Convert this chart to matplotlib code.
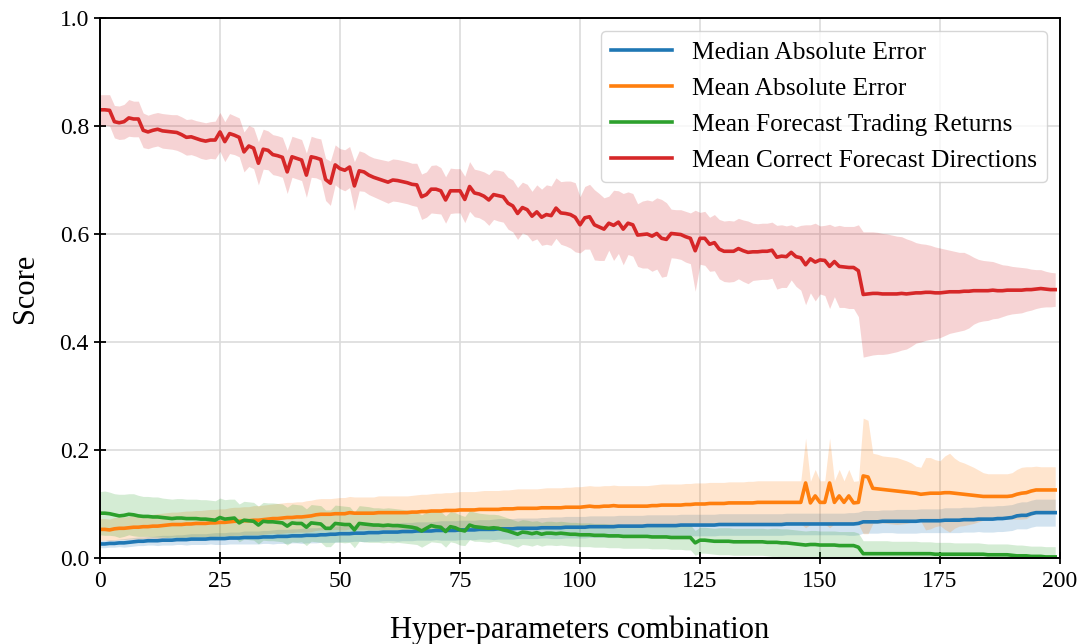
import matplotlib
matplotlib.use("Agg")
import matplotlib.pyplot as plt
import numpy as np

# one value per hyper-parameter combination (index 0..199), mean and std of each score

median_ae_mean = [
    0.026, 0.026, 0.027, 0.027, 0.028, 0.028, 0.029, 0.030, 0.031, 0.031,
    0.032, 0.032, 0.032, 0.033, 0.033, 0.033, 0.034, 0.034, 0.034, 0.035,
    0.035, 0.035, 0.035, 0.036, 0.036, 0.036, 0.036, 0.037, 0.037, 0.037,
    0.038, 0.038, 0.038, 0.038, 0.039, 0.039, 0.039, 0.040, 0.040, 0.040,
    0.041, 0.041, 0.041, 0.042, 0.042, 0.042, 0.043, 0.043, 0.044, 0.044,
    0.045, 0.045, 0.045, 0.046, 0.046, 0.046, 0.047, 0.047, 0.047, 0.048,
    0.048, 0.048, 0.048, 0.049, 0.049, 0.049, 0.050, 0.050, 0.050, 0.050,
    0.051, 0.051, 0.051, 0.051, 0.051, 0.052, 0.052, 0.052, 0.052, 0.053,
    0.053, 0.053, 0.053, 0.054, 0.054, 0.054, 0.054, 0.055, 0.055, 0.055,
    0.055, 0.055, 0.056, 0.056, 0.056, 0.056, 0.056, 0.057, 0.057, 0.057,
    0.057, 0.057, 0.058, 0.058, 0.058, 0.058, 0.058, 0.058, 0.059, 0.059,
    0.059, 0.059, 0.059, 0.059, 0.060, 0.060, 0.060, 0.060, 0.060, 0.060,
    0.060, 0.061, 0.061, 0.061, 0.061, 0.061, 0.061, 0.061, 0.061, 0.062,
    0.062, 0.062, 0.062, 0.062, 0.062, 0.062, 0.062, 0.062, 0.062, 0.062,
    0.062, 0.062, 0.062, 0.063, 0.063, 0.063, 0.063, 0.063, 0.063, 0.063,
    0.063, 0.063, 0.063, 0.063, 0.063, 0.063, 0.063, 0.063, 0.064, 0.067,
    0.067, 0.067, 0.067, 0.068, 0.068, 0.068, 0.068, 0.068, 0.068, 0.068,
    0.068, 0.069, 0.069, 0.069, 0.069, 0.069, 0.070, 0.070, 0.070, 0.070,
    0.071, 0.071, 0.071, 0.072, 0.072, 0.072, 0.072, 0.073, 0.073, 0.074,
    0.075, 0.078, 0.079, 0.079, 0.082, 0.084, 0.084, 0.084, 0.084, 0.084,
]
median_ae_std = [
    0.007, 0.007, 0.007, 0.007, 0.007, 0.008, 0.008, 0.008, 0.008, 0.008,
    0.008, 0.008, 0.009, 0.009, 0.009, 0.009, 0.009, 0.009, 0.010, 0.010,
    0.010, 0.010, 0.010, 0.010, 0.011, 0.011, 0.011, 0.011, 0.011, 0.011,
    0.012, 0.012, 0.012, 0.012, 0.012, 0.012, 0.013, 0.013, 0.013, 0.013,
    0.013, 0.013, 0.014, 0.014, 0.014, 0.014, 0.014, 0.014, 0.015, 0.015,
    0.015, 0.015, 0.015, 0.015, 0.015, 0.016, 0.016, 0.016, 0.016, 0.016,
    0.016, 0.016, 0.017, 0.017, 0.017, 0.017, 0.017, 0.017, 0.017, 0.017,
    0.017, 0.018, 0.018, 0.018, 0.018, 0.018, 0.018, 0.018, 0.018, 0.018,
    0.018, 0.018, 0.019, 0.019, 0.019, 0.019, 0.019, 0.019, 0.019, 0.019,
    0.019, 0.019, 0.019, 0.019, 0.020, 0.020, 0.020, 0.020, 0.020, 0.020,
    0.020, 0.020, 0.020, 0.020, 0.020, 0.020, 0.020, 0.020, 0.020, 0.020,
    0.020, 0.020, 0.020, 0.020, 0.020, 0.020, 0.020, 0.020, 0.020, 0.020,
    0.020, 0.020, 0.020, 0.020, 0.020, 0.020, 0.020, 0.020, 0.020, 0.020,
    0.020, 0.020, 0.020, 0.020, 0.020, 0.020, 0.020, 0.020, 0.020, 0.020,
    0.020, 0.020, 0.020, 0.020, 0.020, 0.020, 0.020, 0.020, 0.020, 0.020,
    0.020, 0.020, 0.020, 0.020, 0.020, 0.020, 0.021, 0.021, 0.021, 0.021,
    0.021, 0.021, 0.021, 0.021, 0.021, 0.021, 0.022, 0.022, 0.022, 0.022,
    0.022, 0.022, 0.022, 0.022, 0.022, 0.022, 0.023, 0.023, 0.023, 0.023,
    0.023, 0.023, 0.023, 0.023, 0.024, 0.024, 0.024, 0.024, 0.024, 0.024,
    0.024, 0.024, 0.025, 0.025, 0.025, 0.025, 0.025, 0.025, 0.025, 0.025,
]

mean_ae_mean = [
    0.053, 0.053, 0.052, 0.054, 0.055, 0.055, 0.056, 0.057, 0.057, 0.058,
    0.058, 0.059, 0.059, 0.060, 0.061, 0.062, 0.062, 0.062, 0.063, 0.063,
    0.064, 0.064, 0.064, 0.065, 0.065, 0.066, 0.066, 0.067, 0.068, 0.068,
    0.069, 0.069, 0.070, 0.070, 0.071, 0.072, 0.073, 0.073, 0.074, 0.075,
    0.075, 0.076, 0.076, 0.077, 0.078, 0.080, 0.081, 0.081, 0.081, 0.082,
    0.082, 0.082, 0.084, 0.083, 0.083, 0.083, 0.083, 0.083, 0.084, 0.084,
    0.084, 0.084, 0.084, 0.084, 0.084, 0.085, 0.085, 0.086, 0.086, 0.087,
    0.087, 0.087, 0.088, 0.088, 0.088, 0.089, 0.089, 0.089, 0.089, 0.090,
    0.090, 0.090, 0.090, 0.090, 0.091, 0.091, 0.091, 0.092, 0.092, 0.092,
    0.092, 0.092, 0.093, 0.093, 0.093, 0.093, 0.093, 0.094, 0.094, 0.094,
    0.094, 0.095, 0.096, 0.095, 0.095, 0.096, 0.096, 0.097, 0.096, 0.096,
    0.096, 0.096, 0.096, 0.096, 0.096, 0.097, 0.097, 0.098, 0.098, 0.098,
    0.098, 0.098, 0.099, 0.099, 0.100, 0.100, 0.100, 0.101, 0.101, 0.101,
    0.101, 0.102, 0.102, 0.102, 0.102, 0.102, 0.102, 0.103, 0.103, 0.103,
    0.103, 0.103, 0.103, 0.103, 0.103, 0.103, 0.103, 0.139, 0.102, 0.115,
    0.103, 0.103, 0.139, 0.103, 0.115, 0.103, 0.115, 0.102, 0.103, 0.152,
    0.150, 0.129, 0.128, 0.127, 0.126, 0.125, 0.124, 0.123, 0.122, 0.121,
    0.120, 0.118, 0.119, 0.120, 0.120, 0.120, 0.121, 0.121, 0.120, 0.119,
    0.118, 0.117, 0.116, 0.115, 0.114, 0.114, 0.114, 0.114, 0.114, 0.114,
    0.115, 0.118, 0.120, 0.121, 0.124, 0.126, 0.126, 0.126, 0.126, 0.126,
]
mean_ae_std = [
    0.020, 0.020, 0.020, 0.021, 0.021, 0.021, 0.021, 0.022, 0.022, 0.022,
    0.022, 0.022, 0.023, 0.023, 0.023, 0.023, 0.023, 0.024, 0.024, 0.024,
    0.024, 0.024, 0.025, 0.025, 0.025, 0.025, 0.025, 0.026, 0.026, 0.026,
    0.026, 0.026, 0.027, 0.027, 0.027, 0.027, 0.027, 0.028, 0.028, 0.028,
    0.028, 0.028, 0.028, 0.029, 0.029, 0.029, 0.029, 0.029, 0.029, 0.029,
    0.030, 0.030, 0.030, 0.030, 0.030, 0.030, 0.030, 0.030, 0.031, 0.031,
    0.031, 0.031, 0.031, 0.031, 0.031, 0.031, 0.032, 0.032, 0.032, 0.032,
    0.033, 0.033, 0.033, 0.033, 0.034, 0.034, 0.034, 0.034, 0.034, 0.034,
    0.035, 0.035, 0.035, 0.035, 0.035, 0.035, 0.036, 0.036, 0.036, 0.036,
    0.036, 0.036, 0.036, 0.037, 0.037, 0.037, 0.037, 0.037, 0.037, 0.038,
    0.038, 0.038, 0.038, 0.038, 0.038, 0.038, 0.038, 0.038, 0.038, 0.038,
    0.038, 0.038, 0.038, 0.038, 0.038, 0.038, 0.039, 0.039, 0.039, 0.039,
    0.039, 0.039, 0.039, 0.039, 0.039, 0.039, 0.039, 0.039, 0.039, 0.039,
    0.039, 0.039, 0.039, 0.039, 0.039, 0.040, 0.040, 0.040, 0.040, 0.040,
    0.040, 0.040, 0.040, 0.040, 0.040, 0.040, 0.040, 0.083, 0.040, 0.049,
    0.040, 0.040, 0.083, 0.040, 0.049, 0.040, 0.049, 0.040, 0.040, 0.107,
    0.105, 0.065, 0.064, 0.062, 0.062, 0.062, 0.062, 0.060, 0.058, 0.055,
    0.050, 0.050, 0.067, 0.066, 0.062, 0.060, 0.068, 0.073, 0.065, 0.060,
    0.058, 0.055, 0.052, 0.048, 0.044, 0.042, 0.042, 0.042, 0.042, 0.042,
    0.043, 0.046, 0.048, 0.048, 0.045, 0.044, 0.043, 0.043, 0.043, 0.043,
]

returns_mean = [
    0.083, 0.083, 0.082, 0.080, 0.078, 0.079, 0.081, 0.080, 0.078, 0.077,
    0.077, 0.076, 0.076, 0.075, 0.074, 0.073, 0.074, 0.074, 0.073, 0.073,
    0.073, 0.072, 0.072, 0.071, 0.070, 0.075, 0.072, 0.073, 0.074, 0.065,
    0.070, 0.069, 0.068, 0.061, 0.068, 0.067, 0.067, 0.066, 0.065, 0.059,
    0.065, 0.064, 0.064, 0.057, 0.065, 0.064, 0.063, 0.055, 0.055, 0.064,
    0.063, 0.062, 0.062, 0.052, 0.064, 0.063, 0.062, 0.061, 0.061, 0.060,
    0.061, 0.060, 0.060, 0.059, 0.058, 0.057, 0.055, 0.050, 0.055, 0.060,
    0.058, 0.057, 0.049, 0.058, 0.056, 0.052, 0.050, 0.061, 0.058, 0.057,
    0.056, 0.055, 0.056, 0.055, 0.052, 0.050, 0.047, 0.044, 0.048, 0.047,
    0.045, 0.047, 0.044, 0.046, 0.046, 0.045, 0.046, 0.045, 0.044, 0.044,
    0.043, 0.043, 0.043, 0.042, 0.042, 0.042, 0.041, 0.041, 0.041, 0.040,
    0.040, 0.040, 0.040, 0.040, 0.040, 0.039, 0.039, 0.039, 0.039, 0.038,
    0.038, 0.038, 0.038, 0.038, 0.028, 0.033, 0.033, 0.032, 0.031, 0.031,
    0.031, 0.031, 0.030, 0.030, 0.030, 0.030, 0.030, 0.030, 0.030, 0.029,
    0.029, 0.029, 0.028, 0.028, 0.027, 0.026, 0.025, 0.024, 0.025, 0.025,
    0.024, 0.024, 0.024, 0.024, 0.023, 0.023, 0.023, 0.023, 0.020, 0.008,
    0.008, 0.008, 0.008, 0.008, 0.008, 0.008, 0.008, 0.008, 0.008, 0.008,
    0.008, 0.008, 0.008, 0.008, 0.007, 0.007, 0.007, 0.007, 0.007, 0.007,
    0.007, 0.007, 0.007, 0.007, 0.007, 0.006, 0.006, 0.006, 0.006, 0.006,
    0.005, 0.004, 0.004, 0.004, 0.003, 0.003, 0.003, 0.002, 0.002, 0.002,
]
returns_std = [
    0.040, 0.041, 0.040, 0.039, 0.040, 0.039, 0.038, 0.039, 0.038, 0.037,
    0.037, 0.037, 0.037, 0.036, 0.036, 0.036, 0.036, 0.036, 0.036, 0.036,
    0.036, 0.036, 0.036, 0.036, 0.036, 0.036, 0.036, 0.036, 0.035, 0.035,
    0.035, 0.035, 0.035, 0.035, 0.035, 0.035, 0.035, 0.035, 0.035, 0.035,
    0.035, 0.035, 0.034, 0.034, 0.034, 0.034, 0.034, 0.034, 0.034, 0.034,
    0.034, 0.034, 0.033, 0.033, 0.033, 0.033, 0.033, 0.032, 0.032, 0.032,
    0.032, 0.032, 0.031, 0.031, 0.031, 0.031, 0.030, 0.030, 0.030, 0.030,
    0.029, 0.029, 0.029, 0.028, 0.028, 0.028, 0.027, 0.027, 0.027, 0.026,
    0.026, 0.026, 0.025, 0.025, 0.025, 0.024, 0.024, 0.024, 0.023, 0.023,
    0.023, 0.022, 0.022, 0.022, 0.022, 0.022, 0.022, 0.022, 0.022, 0.022,
    0.022, 0.022, 0.022, 0.022, 0.022, 0.022, 0.022, 0.022, 0.022, 0.022,
    0.022, 0.022, 0.022, 0.022, 0.022, 0.022, 0.022, 0.022, 0.022, 0.022,
    0.022, 0.022, 0.023, 0.023, 0.023, 0.024, 0.024, 0.024, 0.024, 0.025,
    0.025, 0.025, 0.025, 0.025, 0.025, 0.025, 0.025, 0.025, 0.025, 0.025,
    0.026, 0.026, 0.026, 0.026, 0.026, 0.026, 0.026, 0.026, 0.026, 0.026,
    0.026, 0.026, 0.026, 0.026, 0.026, 0.026, 0.026, 0.026, 0.026, 0.024,
    0.024, 0.024, 0.024, 0.024, 0.024, 0.023, 0.023, 0.023, 0.023, 0.023,
    0.023, 0.022, 0.022, 0.022, 0.022, 0.022, 0.022, 0.022, 0.021, 0.021,
    0.021, 0.021, 0.021, 0.021, 0.020, 0.020, 0.020, 0.020, 0.020, 0.020,
    0.020, 0.020, 0.020, 0.019, 0.019, 0.019, 0.019, 0.019, 0.019, 0.019,
]

directions_mean = [
    0.830, 0.830, 0.829, 0.808, 0.806, 0.808, 0.815, 0.813, 0.813, 0.792,
    0.789, 0.792, 0.794, 0.791, 0.790, 0.789, 0.788, 0.784, 0.779, 0.780,
    0.777, 0.774, 0.772, 0.774, 0.774, 0.789, 0.771, 0.786, 0.783, 0.779,
    0.752, 0.763, 0.759, 0.731, 0.757, 0.755, 0.747, 0.745, 0.742, 0.715,
    0.743, 0.740, 0.737, 0.709, 0.743, 0.741, 0.738, 0.701, 0.694, 0.728,
    0.721, 0.718, 0.724, 0.689, 0.717, 0.715, 0.709, 0.705, 0.702, 0.699,
    0.696, 0.700, 0.699, 0.697, 0.695, 0.692, 0.691, 0.669, 0.673, 0.683,
    0.683, 0.680, 0.663, 0.680, 0.680, 0.680, 0.664, 0.688, 0.676, 0.674,
    0.670, 0.663, 0.673, 0.671, 0.669, 0.657, 0.652, 0.638, 0.649, 0.645,
    0.633, 0.641, 0.631, 0.636, 0.634, 0.648, 0.639, 0.638, 0.636, 0.631,
    0.617, 0.630, 0.632, 0.617, 0.613, 0.609, 0.620, 0.616, 0.622, 0.609,
    0.620, 0.617, 0.598, 0.599, 0.600, 0.596, 0.601, 0.592, 0.590, 0.601,
    0.600, 0.599, 0.595, 0.592, 0.569, 0.592, 0.592, 0.581, 0.584, 0.572,
    0.568, 0.568, 0.568, 0.573, 0.569, 0.566, 0.567, 0.567, 0.568, 0.568,
    0.570, 0.557, 0.559, 0.558, 0.566, 0.558, 0.556, 0.543, 0.554, 0.548,
    0.552, 0.551, 0.540, 0.549, 0.540, 0.539, 0.538, 0.538, 0.532, 0.488,
    0.489, 0.490, 0.490, 0.489, 0.489, 0.489, 0.489, 0.490, 0.489, 0.490,
    0.491, 0.491, 0.492, 0.492, 0.491, 0.491, 0.492, 0.493, 0.493, 0.493,
    0.494, 0.494, 0.495, 0.495, 0.495, 0.495, 0.496, 0.495, 0.495, 0.496,
    0.496, 0.496, 0.496, 0.497, 0.497, 0.498, 0.499, 0.498, 0.497, 0.497,
]
directions_std = [
    0.028, 0.028, 0.029, 0.030, 0.031, 0.032, 0.034, 0.033, 0.033, 0.032,
    0.031, 0.031, 0.031, 0.032, 0.032, 0.032, 0.033, 0.033, 0.033, 0.033,
    0.033, 0.034, 0.034, 0.034, 0.035, 0.036, 0.037, 0.037, 0.036, 0.036,
    0.037, 0.038, 0.038, 0.040, 0.037, 0.036, 0.037, 0.037, 0.037, 0.040,
    0.038, 0.038, 0.038, 0.041, 0.038, 0.037, 0.038, 0.039, 0.041, 0.037,
    0.037, 0.038, 0.038, 0.045, 0.037, 0.036, 0.036, 0.036, 0.037, 0.038,
    0.039, 0.039, 0.039, 0.039, 0.039, 0.039, 0.040, 0.042, 0.042, 0.044,
    0.045, 0.043, 0.043, 0.042, 0.041, 0.041, 0.043, 0.046, 0.044, 0.044,
    0.045, 0.047, 0.046, 0.047, 0.047, 0.048, 0.048, 0.048, 0.047, 0.047,
    0.046, 0.050, 0.052, 0.055, 0.055, 0.056, 0.058, 0.060, 0.062, 0.064,
    0.052, 0.058, 0.060, 0.065, 0.062, 0.058, 0.050, 0.065, 0.058, 0.066,
    0.058, 0.058, 0.058, 0.062, 0.063, 0.065, 0.066, 0.072, 0.068, 0.045,
    0.045, 0.046, 0.047, 0.047, 0.075, 0.048, 0.050, 0.050, 0.052, 0.055,
    0.056, 0.057, 0.056, 0.056, 0.057, 0.058, 0.053, 0.052, 0.052, 0.052,
    0.052, 0.059, 0.058, 0.057, 0.051, 0.055, 0.060, 0.074, 0.063, 0.072,
    0.063, 0.065, 0.078, 0.065, 0.076, 0.075, 0.076, 0.076, 0.085, 0.116,
    0.115, 0.114, 0.113, 0.112, 0.111, 0.109, 0.107, 0.105, 0.102, 0.098,
    0.093, 0.091, 0.089, 0.087, 0.085, 0.083, 0.080, 0.077, 0.075, 0.073,
    0.072, 0.068, 0.062, 0.058, 0.056, 0.055, 0.053, 0.051, 0.048, 0.046,
    0.044, 0.043, 0.042, 0.040, 0.038, 0.036, 0.035, 0.033, 0.032, 0.031,
]

series = [
    ("Median Absolute Error", median_ae_mean, median_ae_std, "tab:blue"),
    ("Mean Absolute Error", mean_ae_mean, mean_ae_std, "tab:orange"),
    ("Mean Forecast Trading Returns", returns_mean, returns_std, "tab:green"),
    ("Mean Correct Forecast Directions", directions_mean, directions_std, "tab:red"),
]

plt.rcParams["font.family"] = ["Liberation Serif", "DejaVu Serif"]

fig, ax = plt.subplots(figsize=(10.84, 6.44), dpi=100)
x = np.arange(len(directions_mean))
for label, mean, std, color in series:
    mean = np.asarray(mean)
    std = np.asarray(std)
    ax.fill_between(x, mean - std, mean + std, color=color, alpha=0.2, linewidth=0)
    ax.plot(x, mean, color=color, linewidth=2.6, label=label)

ax.set_xlim(0, 200)
ax.set_ylim(0, 1)
ax.set_xticks(np.arange(0, 201, 25))
ax.set_yticks(np.arange(0, 1.01, 0.2))
ax.grid(True, color="#dcdcdc", linewidth=1.2)
ax.set_axisbelow(True)
ax.tick_params(direction="inout", length=9, width=1.3, labelsize=17)
ax.tick_params(axis="x", pad=5)
for sp in ax.spines.values():
    sp.set_linewidth(1.4)
ax.set_xlabel("Hyper-parameters combination", fontsize=22, labelpad=17)
ax.set_ylabel("Score", fontsize=22, labelpad=14)
ax.legend(loc="upper right", fontsize=18.3, handlelength=2.4, labelspacing=0.52,
          edgecolor="#cccccc")

fig.subplots_adjust(left=100 / 1084, right=1060 / 1084, top=1 - 18 / 644, bottom=1 - 558 / 644)
fig.savefig("out.png", dpi=100)
